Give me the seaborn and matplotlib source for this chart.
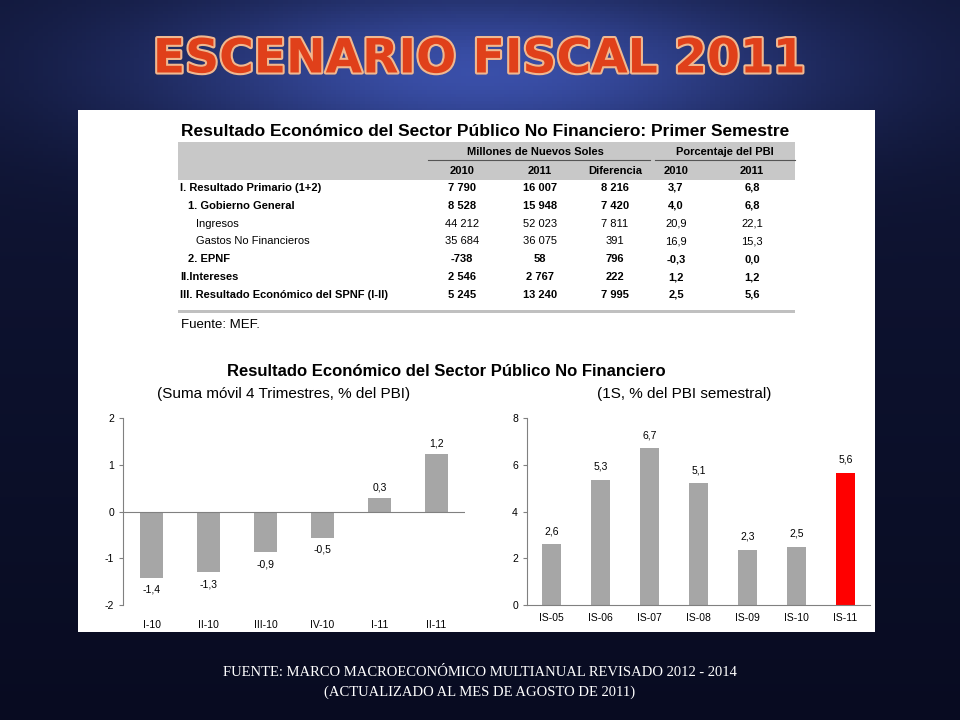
from matplotlib import pyplot as plt
import matplotlib.patheffects as pe
import numpy as np
import pandas as pd
import seaborn as sns

plt.rcParams['axes.unicode_minus'] = False
FONT = 'Liberation Sans'

row_labels = ['I. Resultado Primario (1+2)', '1. Gobierno General', 'Ingresos',
              'Gastos No Financieros', '2. EPNF', 'II.Intereses',
              'III. Resultado Económico del SPNF (I-II)']
row_indent = [0, 1, 2, 2, 1, 0, 0]
row_bold = [True, True, False, False, True, True, True]
mill_2010 = ['7 790', '8 528', '44 212', '35 684', '-738', '2 546', '5 245']
mill_2011 = ['16 007', '15 948', '52 023', '36 075', '58', '2 767', '13 240']
mill_dif = ['8 216', '7 420', '7 811', '391', '796', '222', '7 995']
pbi_2010 = ['3,7', '4,0', '20,9', '16,9', '-0,3', '1,2', '2,5']
pbi_2011 = ['6,8', '6,8', '22,1', '15,3', '0,0', '1,2', '5,6']

trim_labels = ['I-10', 'II-10', 'III-10', 'IV-10', 'I-11', 'II-11']
trim_values = [-1.42, -1.3, -0.87, -0.56, 0.28, 1.22]
trim_text = ['-1,4', '-1,3', '-0,9', '-0,5', '0,3', '1,2']

sem_labels = ['IS-05', 'IS-06', 'IS-07', 'IS-08', 'IS-09', 'IS-10', 'IS-11']
sem_values = [2.6, 5.35, 6.7, 5.2, 2.35, 2.5, 5.65]
sem_text = ['2,6', '5,3', '6,7', '5,1', '2,3', '2,5', '5,6']

W, H = 960, 720
fig = plt.figure(figsize=(9.6, 7.2), dpi=100)

# slide background
bg = fig.add_axes([0, 0, 1, 1])
yy, xx = np.mgrid[0:1:200j, 0:1:200j]
glow = np.exp(-((xx - 0.5) ** 2 / 0.12 + (yy - 0.1) ** 2 / 0.015))
img = 0.06 + 0.3 * glow + 0.06 * (1 - yy)
rgb = np.dstack([img * 0.55, img * 0.75, img * 1.5 + 0.04]).clip(0, 1)
bg.imshow(rgb, extent=[0, 1, 0, 1], aspect='auto')
bg.set_axis_off()

def fx(px):
    return px / W

def fy(py):
    return 1 - py / H

fig.text(0.5, fy(60), 'ESCENARIO FISCAL 2011', ha='center', va='center',
         fontsize=34, fontweight='bold', color='#e0401a', family='DejaVu Sans',
         path_effects=[pe.withStroke(linewidth=3, foreground='#f0b890')])

# white panel
panel = fig.add_axes([fx(78), fy(632), fx(875 - 78), (632 - 110) / H])
panel.set_facecolor('white')
panel.set_xlim(78, 875)
panel.set_ylim(632, 110)
panel.set_xticks([])
panel.set_yticks([])
for s in panel.spines.values():
    s.set_visible(False)

# table
panel.text(485, 131, 'Resultado Económico del Sector Público No Financiero: Primer Semestre',
           ha='center', va='center', fontsize=12.5, fontweight='bold', family=FONT)
panel.add_patch(plt.Rectangle((178, 142), 617, 38, color='#c8c8c8', lw=0))
panel.text(535, 152, 'Millones de Nuevos Soles', ha='center', va='center', fontsize=8,
           fontweight='bold', family=FONT)
panel.text(725, 152, 'Porcentaje del PBI', ha='center', va='center', fontsize=8,
           fontweight='bold', family=FONT)
panel.plot([428, 650], [160, 160], color='#555555', lw=0.8)
panel.plot([655, 795], [160, 160], color='#555555', lw=0.8)
col_x = [462, 540, 615, 676, 752]
for x, t in zip(col_x, ['2010', '2011', 'Diferencia', '2010', '2011']):
    panel.text(x, 171, t, ha='center', va='center', fontsize=8, fontweight='bold',
               family=FONT)
for i, lab in enumerate(row_labels):
    y = 188 + i * 17.8
    w = 'bold' if row_bold[i] else 'normal'
    panel.text(180 + 8 * row_indent[i], y, lab, ha='left', va='center', fontsize=8,
               fontweight=w, family=FONT)
    vals = [mill_2010[i], mill_2011[i], mill_dif[i], pbi_2010[i], pbi_2011[i]]
    for x, v in zip(col_x, vals):
        panel.text(x, y, v, ha='center', va='center', fontsize=8, fontweight=w,
                   family=FONT)
panel.add_patch(plt.Rectangle((178, 310), 617, 3, color='#c0c0c0', lw=0))
panel.text(181, 325, 'Fuente: MEF.', ha='left', va='center', fontsize=9.5, family=FONT)

panel.text(446, 371, 'Resultado Económico del Sector Público No Financiero', ha='center',
           va='center', fontsize=12, fontweight='bold', family=FONT)
panel.text(157, 394, '(Suma móvil 4 Trimestres, % del PBI)', ha='left', va='center',
           fontsize=11, family=FONT)
panel.text(597, 394, '(1S, % del PBI semestral)', ha='left', va='center',
           fontsize=11, family=FONT)

def style(ax):
    ax.set_facecolor('white')
    for s in ['top', 'right']:
        ax.spines[s].set_visible(False)
    ax.spines['left'].set_color('#808080')
    ax.spines['bottom'].set_color('#808080')
    ax.tick_params(labelsize=7.5, length=3, color='#808080')
    for t in ax.get_xticklabels() + ax.get_yticklabels():
        t.set_family(FONT)
    ax.set_xlabel('')
    ax.set_ylabel('')

# left chart
ax1 = fig.add_axes([fx(123), fy(605), fx(465 - 123), (605 - 418) / H])
df1 = pd.DataFrame({'p': trim_labels, 'v': trim_values})
sns.barplot(data=df1, x='p', y='v', color='#a6a6a6', saturation=1, width=0.4, ax=ax1)
ax1.set_ylim(-2, 2)
ax1.set_yticks([-2, -1, 0, 1, 2])
ax1.axhline(0, color='#808080', lw=0.8)
for i, (v, t) in enumerate(zip(trim_values, trim_text)):
    off = 0.12 if v > 0 else -0.15
    ax1.text(i, v + off, t, ha='center', va='bottom' if v > 0 else 'top', fontsize=7.5,
             family=FONT)
style(ax1)
ax1.spines['bottom'].set_visible(False)
ax1.tick_params(axis='x', length=0, pad=11)

# right chart
ax2 = fig.add_axes([fx(527), fy(605), fx(870 - 527), (605 - 418) / H])
df2 = pd.DataFrame({'p': sem_labels, 'v': sem_values})
colors = ['#a6a6a6'] * 6 + ['#ff0000']
sns.barplot(data=df2, x='p', y='v', hue='p', palette=colors, saturation=1, width=0.4,
            legend=False, ax=ax2)
ax2.set_ylim(0, 8)
ax2.set_yticks([0, 2, 4, 6, 8])
for i, (v, t) in enumerate(zip(sem_values, sem_text)):
    ax2.text(i, v + 0.35, t, ha='center', va='bottom', fontsize=7.5, family=FONT)
style(ax2)
ax2.tick_params(axis='x', length=0, pad=6)

fig.text(0.5, fy(672), 'FUENTE: MARCO MACROECONÓMICO MULTIANUAL REVISADO 2012 - 2014',
         ha='center', va='center', fontsize=10.5, color='white', family='Liberation Serif')
fig.text(0.5, fy(692), '(ACTUALIZADO AL MES DE AGOSTO DE 2011)',
         ha='center', va='center', fontsize=10.5, color='white', family='Liberation Serif')

fig.savefig('out.png', dpi=100)
